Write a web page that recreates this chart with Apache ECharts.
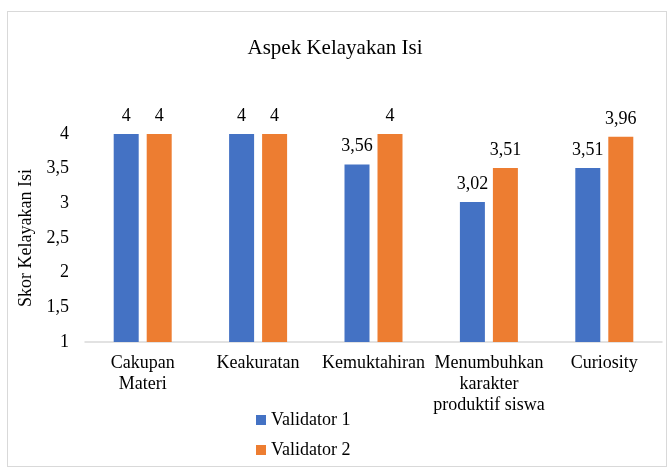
<!DOCTYPE html>
<html>
<head>
<meta charset="utf-8">
<script src="https://cdn.jsdelivr.net/npm/echarts@6/dist/echarts.min.js"></script>
<style>
  html, body { margin: 0; padding: 0; background: #fff; }
  #frame { position: absolute; left: 7px; top: 11px; width: 660px; height: 456px; border: 1px solid #d9d9d9; box-sizing: border-box; }
  #chart { position: absolute; left: 0; top: 0; width: 670px; height: 470px; }
</style>
</head>
<body>
<div id="frame"></div>
<div id="chart"></div>
<script>
// data
var categories = ['Cakupan\nMateri', 'Keakuratan', 'Kemuktahiran', 'Menumbuhkan\nkarakter\nproduktif siswa', 'Curiosity']
var validator1 = [4, 4, 3.56, 3.02, 3.51]
var validator2 = [4, 4, 4, 3.51, 3.96]
var seriesNames = ['Validator 1', 'Validator 2']

var font = '"Liberation Serif", "Times New Roman", serif'
var fs = 18
var comma = function (v) { return String(v).replace('.', ',') }

var chart = echarts.init(document.getElementById('chart'))
chart.setOption({
  animation: false,
  textStyle: { fontFamily: font },
  title: {
    text: 'Aspek Kelayakan Isi',
    left: 'center',
    top: 33,
    textStyle: { fontFamily: font, fontSize: 21, fontWeight: 'normal', color: '#000' }
  },
  legend: {
    orient: 'vertical',
    left: 251,
    top: 406,
    itemWidth: 10,
    itemHeight: 10,
    itemGap: 12,
    icon: 'rect',
    textStyle: { fontFamily: font, fontSize: fs, color: '#000' },
    data: seriesNames
  },
  grid: { left: 85, right: 8, top: 134, bottom: 128 },
  xAxis: {
    type: 'category',
    data: categories,
    axisLine: { lineStyle: { color: '#d9d9d9', width: 1.5 } },
    axisTick: { show: false },
    axisLabel: { fontFamily: font, fontSize: fs, color: '#000', margin: 11, lineHeight: 21, interval: 0 }
  },
  yAxis: {
    type: 'value',
    min: 1,
    max: 4,
    interval: 0.5,
    name: 'Skor Kelayakan Isi',
    nameLocation: 'middle',
    nameGap: 45,
    nameTextStyle: { fontFamily: font, fontSize: fs, color: '#000' },
    splitLine: { show: false },
    axisLine: { show: false },
    axisTick: { show: false },
    axisLabel: { fontFamily: font, fontSize: fs, color: '#000', margin: 16, formatter: comma }
  },
  series: [
    {
      name: seriesNames[0], type: 'bar', data: validator1,
      barWidth: 25, barGap: '32%',
      itemStyle: { color: '#4472C4' },
      label: { show: true, position: 'top', distance: 9, fontFamily: font, fontSize: fs, color: '#000', formatter: function (p) { return comma(p.value) } }
    },
    {
      name: seriesNames[1], type: 'bar', data: validator2,
      barWidth: 25, barGap: '32%',
      itemStyle: { color: '#ED7D31' },
      label: { show: true, position: 'top', distance: 9, fontFamily: font, fontSize: fs, color: '#000', formatter: function (p) { return comma(p.value) } }
    }
  ]
})
</script>
</body>
</html>
